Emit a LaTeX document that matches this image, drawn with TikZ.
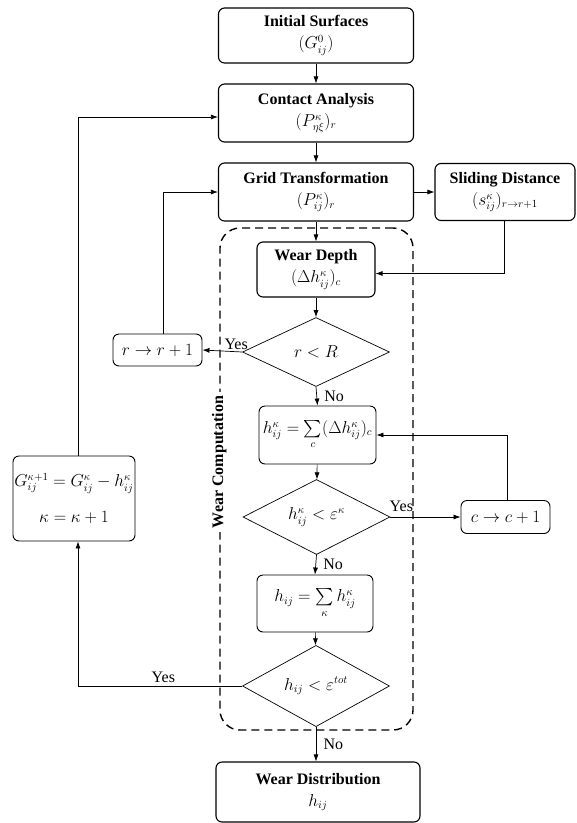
\documentclass[tikz,border=0pt]{standalone}
\usepackage{exscale}
\usepackage{fontspec}
\setmainfont{Liberation Serif}
\usetikzlibrary{shapes.geometric,arrows.meta}

\begin{document}
\begin{tikzpicture}[x=1pt,y=-1pt,
    >={Latex[length=7pt,width=5pt]},
    font=\fontsize{16}{19}\selectfont,
    stagebox/.style={draw,line width=1.1pt,rounded corners=6pt,align=center,inner sep=0pt},
    mathbox/.style={draw,line width=0.9pt,rounded corners=6pt,align=center,inner sep=0pt},
    query/.style={draw,diamond,line width=0.7pt,inner sep=0pt},
    flow/.style={->,line width=0.7pt},
    wearframe/.style={draw,line width=1.4pt,dash pattern=on 8pt off 5pt,rounded corners=20pt}]
    \useasboundingbox (0,0) rectangle (577,823);
    % main column
    \node[stagebox,minimum width=195,minimum height=55] (init) at (316,35.5) {\textbf{Initial Surfaces}\\[3pt]$(G^{0}_{ij})$};
    \node[stagebox,minimum width=195,minimum height=58] (contact) at (316,113) {\textbf{Contact Analysis}\\[3pt]$(P^{\kappa}_{\eta\xi})_r$};
    \node[stagebox,minimum width=195,minimum height=58] (grid) at (316,192) {\textbf{Grid Transformation}\\[3pt]$(P^{\kappa}_{ij})_r$};
    \node[stagebox,minimum width=140,minimum height=57] (slide) at (505,192) {\textbf{Sliding Distance}\\[3pt]$(s^{\kappa}_{ij})_{r\rightarrow r+1}$};
    % wear computation loop
    \node[wearframe,minimum width=193,minimum height=502] (wc) at (316.5,479) {};
    \node[fill=white,rotate=90,inner sep=4pt,font=\fontsize{16}{19}\selectfont\bfseries] (wclabel) at ([yshift=17pt]wc.west) {Wear Computation};
    \node[stagebox,minimum width=118,minimum height=55] (depth) at (316,269.5) {\textbf{Wear Depth}\\[3pt]$(\Delta h^{\kappa}_{ij})_c$};
    \node[query,minimum width=147,minimum height=69] (qr) at (316,352) {$r<R$};
    \node[mathbox,minimum width=89,minimum height=32] (rnext) at (157.5,350) {$r\rightarrow r+1$};
    \node[mathbox,minimum width=117,minimum height=58] (hk) at (317.5,435) {$h^{\kappa}_{ij}=\sum\limits_{c}(\Delta h^{\kappa}_{ij})_c$};
    \node[query,minimum width=147,minimum height=71] (qk) at (316.5,517) {$h^{\kappa}_{ij}<\varepsilon^{\kappa}$};
    \node[mathbox,minimum width=89,minimum height=33] (cnext) at (505.5,517) {$c\rightarrow c+1$};
    \node[mathbox,minimum width=116,minimum height=57] (hsum) at (315,603.5) {$h_{ij}=\sum\limits_{\kappa}h^{\kappa}_{ij}$};
    \node[query,minimum width=147,minimum height=70] (qt) at (316,686) {$h_{ij}<\varepsilon^{tot}$};
    \node[stagebox,minimum width=204,minimum height=60] (dist) at (318,792) {\textbf{Wear Distribution}\\[3pt]$h_{ij}$};
    % surface update
    \node[mathbox,minimum width=122,minimum height=85] (update) at (74,498.5) {$G^{\kappa+1}_{ij}=G^{\kappa}_{ij}-h^{\kappa}_{ij}$\\[17pt]$\kappa=\kappa+1$};
    % connectors
    \draw[flow] (init.south -| depth) -- (contact.north -| depth);
    \draw[flow] (contact.south -| depth) -- (grid.north -| depth);
    \draw[flow] (grid.south -| depth) -- (depth.north);
    \draw[flow] (grid) -- (slide);
    \draw[flow] ([xshift=-1pt]slide.south) |- ([yshift=-4pt]depth.east);
    \draw[flow] (depth) -- (qr);
    \draw[flow] (qr.west) -- (rnext.east) node[pos=0,above left,xshift=8pt,inner sep=2pt] {Yes};
    \draw[flow] ([xshift=5.5pt]rnext.north) |- (grid.west);
    \draw[flow] (qr.south) -- (hk.north) node[midway,right,xshift=4pt] {No};
    \draw[flow] (hk) -- (qk);
    \draw[flow] (qk.east) -- (cnext.west) node[pos=0,above right,inner sep=2pt,xshift=-3pt,yshift=3pt] {Yes};
    \draw[flow] ([xshift=1.5pt]cnext.north) |- (hk.east);
    \draw[flow] (qk.south) -- (hsum.north) node[midway,right,xshift=4pt] {No};
    \draw[flow] (hsum) -- (qt);
    \draw[flow] (qt.west) -| ([xshift=4pt]update.south) node[pos=0.24,above,inner sep=3pt] {Yes};
    \draw[flow] ([xshift=4pt]update.north) |- ([yshift=-4pt]contact.west);
    \draw[flow] (qt.south) -- (dist.north -| qt) node[midway,right,xshift=4pt] {No};
\end{tikzpicture}
\end{document}
